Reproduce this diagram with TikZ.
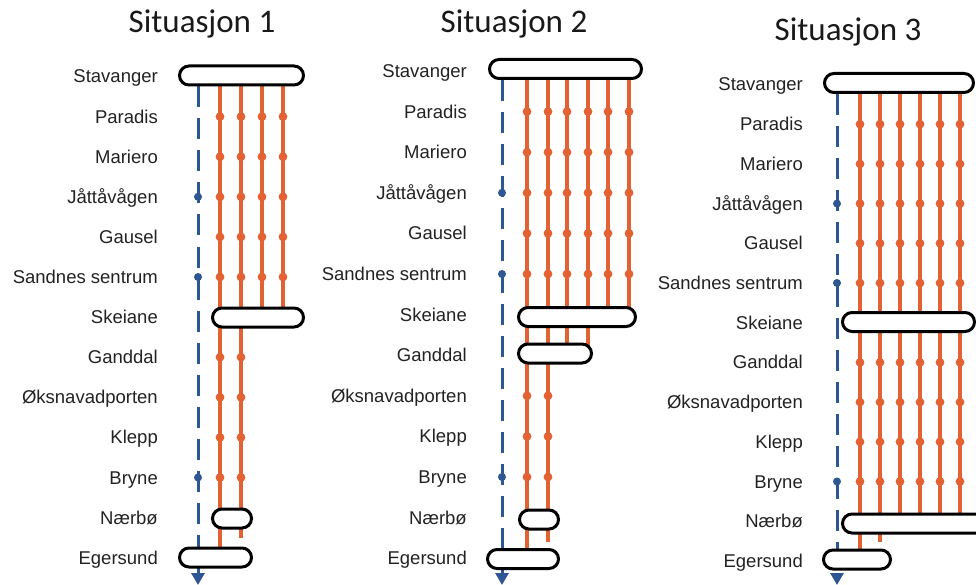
\documentclass[tikz,border=0pt]{standalone}
\usepackage{fontspec}
\setmainfont{Liberation Sans}
\newfontfamily\titlefont{Carlito}
\usetikzlibrary{arrows.meta}

\definecolor{railorange}{RGB}{226,98,52}
\definecolor{railblue}{RGB}{45,86,146}
\definecolor{labelgray}{RGB}{34,34,34}

\pgfdeclarelayer{rails}
\pgfsetlayers{rails,main}

\tikzset{
  station/.style={anchor=base east, inner sep=0pt, text=labelgray,
    font=\fontsize{18.5}{20}\selectfont},
  heading/.style={anchor=base, inner sep=0pt, text=black!90,
    font=\titlefont\fontsize{33}{36}\selectfont},
  terminal/.style={draw=black, line width=3pt, fill=white,
    rounded corners=9.5pt, minimum height=19pt, inner sep=0pt},
  rail/.style={draw=railorange, line width=3.4pt},
  trunk/.style={draw=railblue, line width=3pt, dash pattern=on 21pt off 11pt,
    -{Triangle[width=13pt,length=12pt]}},
  stopdot/.style={fill=railorange},
  trunkdot/.style={fill=railblue},
}

\begin{document}
\begin{tikzpicture}[x=1pt,y=-1pt]
\useasboundingbox (0,0) rectangle (976,585);

% ---------------- Situasjon 1 ----------------
\node[heading] (A-title) at (202,33) {Situasjon 1};
\def\yo{76.5}\def\dy{40.1}
\foreach \i/\s in {0/Stavanger,1/Paradis,2/Mariero,3/Jåttåvågen,4/Gausel,
    5/Sandnes sentrum,6/Skeiane,7/Ganddal,8/Øksnavadporten,9/Klepp,
    10/Bryne,11/Nærbø,12/Egersund}{
  \node[station] (A\i) at (158,\yo+\dy*\i+6.5) {\s};
}
\node[terminal, minimum width=124pt] (A-stav) at (241.5,75.5) {};
\node[terminal, minimum width=91pt]  (A-skei) at (258,317.5) {};
\node[terminal, minimum width=39pt]  (A-naer) at (232,518.5) {};
\node[terminal, minimum width=72pt]  (A-eger) at (215.5,557.5) {};
\coordinate (A-end)  at (198,585);
\coordinate (A-stub) at (241,538);
\begin{pgfonlayer}{rails}
  \draw[trunk] (A-stav.south -| A-end) -- (A-end);
  \draw[rail] (A-stav.center -| 220,0) -- (A-eger.center -| 220,0);
  \draw[rail] (A-stav.center -| A-stub) -- (A-stub);
  \foreach \x in {262,283}
    \draw[rail] (A-stav.center -| \x,0) -- (A-skei.center -| \x,0);
\end{pgfonlayer}
\foreach \i in {1,...,5}
  \foreach \x in {220,241,262,283}
    \fill[stopdot] (\x,\yo+\dy*\i) circle[radius=4.4pt];
\foreach \i in {7,...,10}
  \foreach \x in {220,241}
    \fill[stopdot] (\x,\yo+\dy*\i) circle[radius=4.4pt];
\foreach \i in {3,5,10}
  \fill[trunkdot] (198,\yo+\dy*\i) circle[radius=4pt];

% ---------------- Situasjon 2 ----------------
\node[heading] (B-title) at (514,33) {Situasjon 2};
\def\yo{71}\def\dy{40.6}
\foreach \i/\s in {0/Stavanger,1/Paradis,2/Mariero,3/Jåttåvågen,4/Gausel,
    5/Sandnes sentrum,6/Skeiane,7/Ganddal,8/Øksnavadporten,9/Klepp,
    10/Bryne,11/Nærbø,12/Egersund}{
  \node[station] (B\i) at (467,\yo+\dy*\i+6.5) {\s};
}
\node[terminal, minimum width=152pt] (B-stav) at (565.5,69) {};
\node[terminal, minimum width=117pt] (B-skei) at (577,317) {};
\node[terminal, minimum width=73pt]  (B-gand) at (555,353.5) {};
\node[terminal, minimum width=39pt]  (B-naer) at (539,519.5) {};
\node[terminal, minimum width=71pt]  (B-eger) at (523,559) {};
\coordinate (B-end)  at (502,585);
\coordinate (B-stub) at (548,542);
\begin{pgfonlayer}{rails}
  \draw[trunk] (B-stav.south -| B-end) -- (B-end);
  \draw[rail] (B-stav.center -| 527,0) -- (B-eger.center -| 527,0);
  \draw[rail] (B-stav.center -| B-stub) -- (B-stub);
  \foreach \x in {567,588}
    \draw[rail] (B-stav.center -| \x,0) -- (B-gand.center -| \x,0);
  \foreach \x in {608,629}
    \draw[rail] (B-stav.center -| \x,0) -- (B-skei.center -| \x,0);
\end{pgfonlayer}
\foreach \i in {1,...,5}
  \foreach \x in {527,548,567,588,608,629}
    \fill[stopdot] (\x,\yo+\dy*\i) circle[radius=4.4pt];
\foreach \i in {8,...,10}
  \foreach \x in {527,548}
    \fill[stopdot] (\x,\yo+\dy*\i) circle[radius=4.4pt];
\foreach \i in {3,5,10}
  \fill[trunkdot] (502,\yo+\dy*\i) circle[radius=4pt];

% ---------------- Situasjon 3 ----------------
\node[heading] (C-title) at (848,41) {Situasjon 3};
\def\yo{84.5}\def\dy{39.7}
\foreach \i/\s in {0/Stavanger,1/Paradis,2/Mariero,3/Jåttåvågen,4/Gausel,
    5/Sandnes sentrum,6/Skeiane,7/Ganddal,8/Øksnavadporten,9/Klepp,
    10/Bryne,11/Nærbø,12/Egersund}{
  \node[station] (C\i) at (803,\yo+\dy*\i+6.5) {\s};
}
\node[terminal, minimum width=149pt] (C-stav) at (899,83) {};
\node[terminal, minimum width=132pt] (C-skei) at (908.5,322) {};
\node[terminal, minimum width=151pt] (C-naer) at (918,523.5) {};
\node[terminal, minimum width=67pt]  (C-eger) at (857,559.5) {};
\coordinate (C-end)  at (837,585);
\coordinate (C-stub) at (880,542);
\begin{pgfonlayer}{rails}
  \draw[trunk] (C-stav.south -| C-end) -- (C-end);
  \draw[rail] (C-stav.center -| 860,0) -- (C-eger.center -| 860,0);
  \draw[rail] (C-stav.center -| C-stub) -- (C-stub);
  \foreach \x in {900,920,940,960}
    \draw[rail] (C-stav.center -| \x,0) -- (C-naer.center -| \x,0);
\end{pgfonlayer}
\foreach \i in {1,...,5,7,8,9,10}
  \foreach \x in {860,880,900,920,940,960}
    \fill[stopdot] (\x,\yo+\dy*\i) circle[radius=4.4pt];
\foreach \i in {3,5,10}
  \fill[trunkdot] (837,\yo+\dy*\i) circle[radius=4pt];

\end{tikzpicture}
\end{document}
